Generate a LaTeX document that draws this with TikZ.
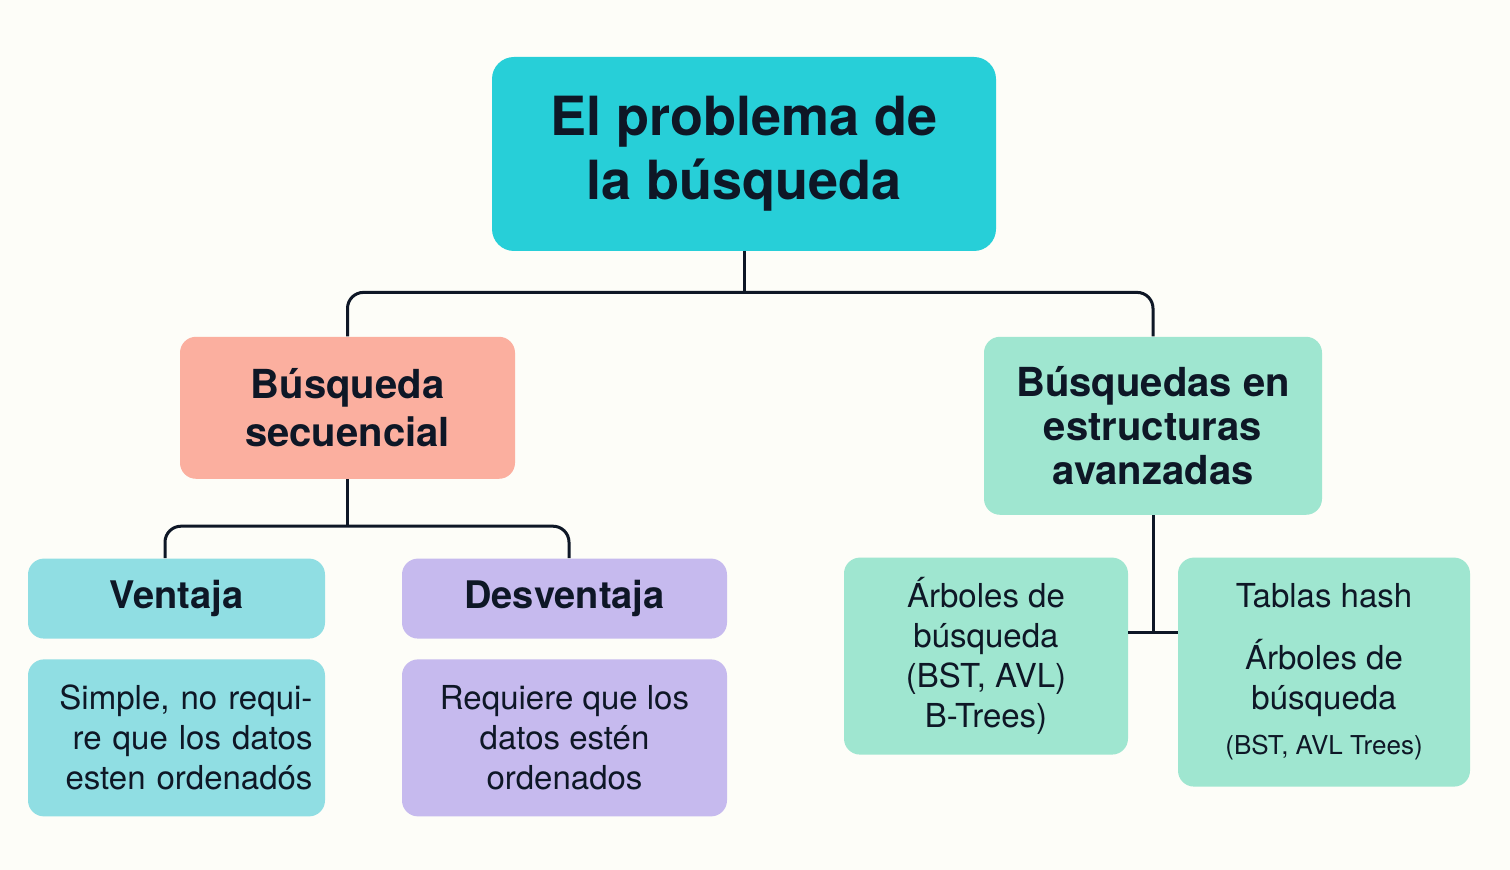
\documentclass[tikz,border=0pt]{standalone}
\usepackage{fontspec}
\setmainfont{TeX Gyre Heros}
\usepackage{xcolor}
\usepackage{tikz}
\usetikzlibrary{positioning}
\definecolor{fondo}{HTML}{FDFDF8}
\definecolor{tinta}{HTML}{0E1726}
\definecolor{turquesa}{HTML}{27CFD8}
\definecolor{salmon}{HTML}{FBAF9F}
\definecolor{menta}{HTML}{9FE6D0}
\definecolor{celeste}{HTML}{90DEE3}
\definecolor{lavanda}{HTML}{C6BAEE}
\tikzset{
  caja/.style={rectangle, rounded corners=8pt, draw=none, align=center,
    text=tinta, inner sep=0pt},
  titulo/.style={caja, font=\fontsize{20}{24}\selectfont\bfseries},
  texto/.style={caja, font=\fontsize{16.5}{20}\selectfont},
  conector/.style={tinta, line width=1.5pt, rounded corners=8pt}
}

\begin{document}
\begin{tikzpicture}

  \fill[fondo] (0,0) rectangle (755pt,-435pt);

  % --- Raíz ---
  \node[caja, fill=turquesa, rounded corners=11pt, minimum width=252pt,
        minimum height=97pt, font=\fontsize{27}{32}\selectfont\bfseries]
    (raiz) at (372pt,-77pt) {El problema de\\la búsqueda};

  % --- Segundo nivel ---
  \node[titulo, fill=salmon, minimum width=167.5pt, minimum height=71pt,
        below=42.5pt of raiz, xshift=-198.25pt] (secuencial)
    {Búsqueda\\secuencial};
  \node[titulo, fill=menta, minimum width=169pt, minimum height=89pt,
        font=\fontsize{20}{22}\selectfont\bfseries,
        below=42.5pt of raiz, xshift=204.5pt] (avanzadas)
    {Búsquedas en\\estructuras\\avanzadas};

  % --- Ventaja / Desventaja ---
  \node[titulo, fill=celeste, minimum width=148.5pt, minimum height=40pt,
        font=\fontsize{19}{22}\selectfont\bfseries,
        below=39.5pt of secuencial, xshift=-85.5pt] (ventaja) {Ventaja};
  \node[titulo, fill=lavanda, minimum width=162.5pt, minimum height=40pt,
        font=\fontsize{19}{22}\selectfont\bfseries,
        below=39.5pt of secuencial, xshift=108.5pt] (desventaja) {Desventaja};

  \node[texto, fill=celeste, minimum width=148.5pt, minimum height=78.5pt,
        text width=136pt, align=right, below=10pt of ventaja] (simple)
    {Simple, no requi-\\re que los datos\\esten ordenadós};
  \node[texto, fill=lavanda, minimum width=162.5pt, minimum height=78.5pt,
        below=10pt of desventaja] (requiere)
    {Requiere que los\\datos estén\\ordenados};

  % --- Estructuras avanzadas ---
  \node[texto, fill=menta, minimum width=142pt, minimum height=98.5pt,
        below=21pt of avanzadas, xshift=-83.5pt] (arboles)
    {Árboles de\\búsqueda\\(BST, AVL)\\B-Trees)};
  \node[texto, fill=menta, minimum width=146pt, minimum height=114.5pt,
        below=21pt of avanzadas, xshift=85.5pt] (tablas)
    {Tablas hash\\[11pt]Árboles de\\búsqueda\\[2.5pt]
     {\fontsize{13}{16}\selectfont (BST, AVL Trees)}};

  % --- Conectores ---
  \draw[conector] (raiz.south) -- ++(0,-20.5pt) coordinate (union1);
  \draw[conector] (secuencial.north) |- (union1) -| (avanzadas.north);
  \draw[conector] (secuencial.south) -- ++(0,-23.5pt) coordinate (union2);
  \draw[conector] ([xshift=-5.75pt]ventaja.north) |- (union2)
    -| ([xshift=2.25pt]desventaja.north);
  \draw[conector] (avanzadas.south) -- ++(0,-58.5pt) coordinate (union3);
  \draw[conector] (arboles.east |- union3) -- (tablas.west |- union3);

\end{tikzpicture}
\end{document}
